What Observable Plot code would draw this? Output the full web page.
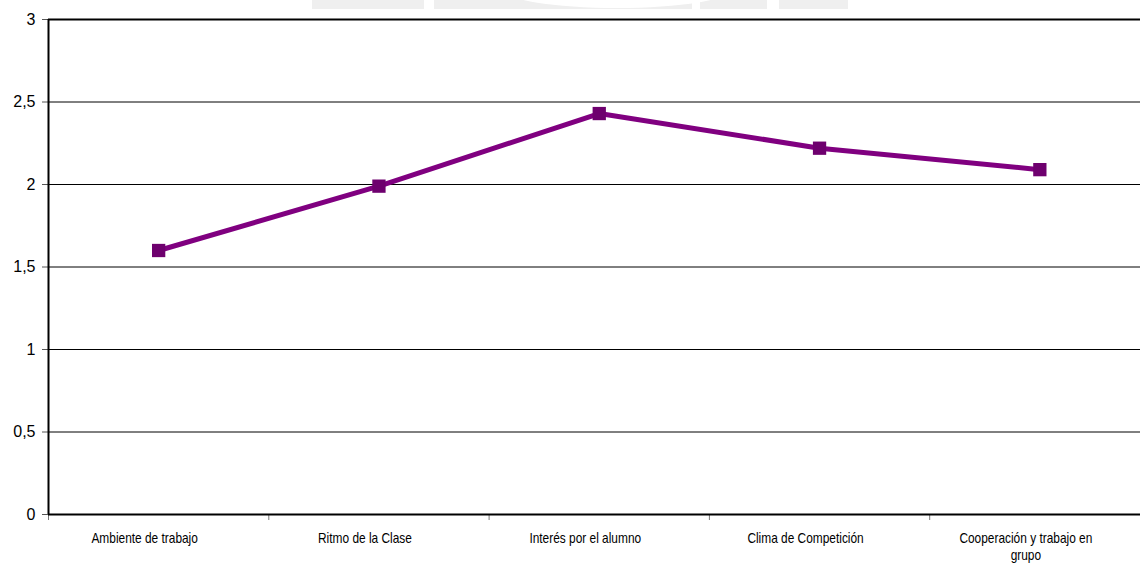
<!DOCTYPE html>
<html>
<head>
<meta charset="utf-8">
<script src="https://cdn.jsdelivr.net/npm/d3@7"></script>
<script src="https://cdn.jsdelivr.net/npm/@observablehq/plot@0.6"></script>
<style>
  html, body { margin: 0; padding: 0; background: #fff; }
  #wrap { position: relative; width: 1140px; height: 565px; overflow: hidden; }
  #mark { position: absolute; left: 312px; top: 0; width: 536px; height: 9px; background: #efefef; }
  #mark .cut { position: absolute; background: #fff; }
  #chart { position: absolute; left: 0; top: 0; }
  svg text { fill: #000; }
</style>
</head>
<body>
<div id="wrap">
  <div id="mark">
    <div class="cut" style="left:112px;top:0;width:10px;height:9px"></div>
    <div class="cut" style="left:190px;top:-30px;width:230px;height:38px;border-radius:50%"></div>
    <div class="cut" style="left:380px;top:0;width:8px;height:9px"></div>
    <div class="cut" style="left:455px;top:0;width:12px;height:9px"></div>
  </div>
  <div id="chart"></div>
</div>
<script>
// Categories along the x axis
const categories = [
  "Ambiente de trabajo",
  "Ritmo de la Clase",
  "Interés por el alumno",
  "Clima de Competición",
  "Cooperación y trabajo en\ngrupo"
];
// Mean score per category
const values = [1.6, 1.99, 2.43, 2.22, 2.09];
// Y axis ticks
const yTicks = [0, 0.5, 1, 1.5, 2, 2.5, 3];

// Each category occupies a unit slot; points sit in the middle of the slot
const data = categories.map((c, i) => ({pos: i + 0.5, label: c, value: values[i]}));
const slotEdges = categories.map((c, i) => i);

const fmt = d => String(d).replace(".", ",");

const chart = Plot.plot({
  width: 1140,
  height: 565,
  marginLeft: 48,
  marginRight: 0,
  marginTop: 19,
  marginBottom: 51,
  style: {background: "transparent", overflow: "visible"},
  x: {type: "linear", domain: [0, categories.length], range: [48, 1149.5], label: null},
  y: {domain: [0, 3], label: null},
  marks: [
    Plot.ruleY(yTicks.filter(d => d > 0 && d < 3), {stroke: "#000", strokeWidth: 1}),
    Plot.ruleY([3], {stroke: "#000", strokeWidth: 2}),
    Plot.axisY({
      ticks: yTicks, tickFormat: fmt, tickSize: 6, tickPadding: 7, label: null,
      stroke: "#555", fontSize: 16, fontFamily: "Liberation Sans, Arial, sans-serif"
    }),
    Plot.axisX({
      ticks: slotEdges, tickFormat: () => "", tickSize: 6, stroke: "#777", label: null
    }),
    Plot.axisX({
      ticks: data.map(d => d.pos),
      tickFormat: (d) => categories[Math.floor(d)],
      tickSize: 0, tickPadding: 16, lineHeight: 1.22, label: null,
      fontSize: 14, className: "cat-labels",
      fontFamily: "'Liberation Sans Narrow', 'Arial Narrow', 'Liberation Sans', sans-serif"
    }),
    Plot.ruleY([0], {stroke: "#000", strokeWidth: 2}),
    Plot.ruleX([0], {stroke: "#000", strokeWidth: 2}),
    Plot.line(data, {x: "pos", y: "value", stroke: "#800080", strokeWidth: 5}),
    Plot.dot(data, {x: "pos", y: "value", symbol: "square", r: 7.5, fill: "#6e006e", stroke: "none"})
  ]
});

// Condense the category labels horizontally (narrow face) and nudge them left
d3.select(chart).selectAll("g.cat-labels text").each(function () {
  const t = this.getAttribute("transform") || "";
  this.setAttribute("transform", t + " translate(-14,0) scale(0.85,1)");
});

document.getElementById("chart").append(chart);
</script>
</body>
</html>
